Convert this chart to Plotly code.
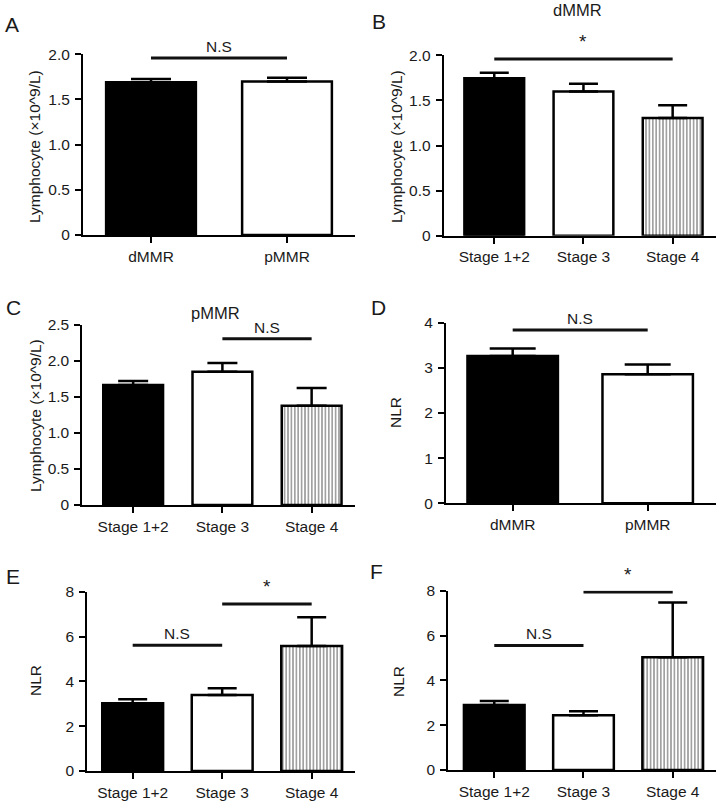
import plotly.graph_objects as go

W, H = 722, 809

# ---------------- data ----------------
cat_mmr = ["dMMR", "pMMR"]
cat_stage = ["Stage 1+2", "Stage 3", "Stage 4"]

a_mean = [1.69, 1.70]
a_sem = [0.037, 0.040]
b_mean = [1.745, 1.60, 1.305]
b_sem = [0.062, 0.085, 0.14]
c_mean = [1.667, 1.852, 1.38]
c_sem = [0.055, 0.12, 0.245]
d_mean = [3.26, 2.856]
d_sem = [0.17, 0.22]
e_mean = [3.02, 3.39, 5.58]
e_sem = [0.18, 0.30, 1.28]
f_mean = [2.90, 2.44, 5.03]
f_sem = [0.18, 0.18, 2.44]

lymph_ticks = [0, 0.5, 1.0, 1.5, 2.0]
lymph_ticks_c = [0, 0.5, 1.0, 1.5, 2.0, 2.5]
nlr_ticks_d = [0, 1, 2, 3, 4]
nlr_ticks_ef = [0, 2, 4, 6, 8]

# comparisons: (from index, to index, y level, label)
a_cmp = [(0, 1, 1.96, "N.S")]
b_cmp = [(0, 2, 1.96, "*")]
c_cmp = [(1, 2, 2.31, "N.S")]
d_cmp = [(0, 1, 3.84, "N.S")]
e_cmp = [(0, 1, 5.61, "N.S"), (1, 2, 7.45, "*")]
f_cmp = [(0, 1, 5.56, "N.S"), (1, 2, 7.94, "*")]

FONT = "Liberation Sans, Arial, Helvetica, sans-serif"
TXT = "#1a1a1a"


def fx(px):
    return px / W


def fy(py):
    return 1 - py / H


panels = [
    dict(letter="A", cats=cat_mmr, mean=a_mean, sem=a_sem, ticks=lymph_ticks,
         xd=(83, 355), yd=(54.3, 235), xr=(-0.5, 1.5), cap=20, bw=0.66,
         ytitle="Lymphocyte (×10^9/L)", title=None, cmp=a_cmp,
         lpos=(12, 24), tpos=(35, 147), ttl=None),
    dict(letter="B", cats=cat_stage, mean=b_mean, sem=b_sem, ticks=lymph_ticks,
         xd=(443.7, 716), yd=(55.3, 235.7), xr=(-0.567, 2.486), cap=14.5, bw=0.67,
         ytitle="Lymphocyte (×10^9/L)", title="dMMR", cmp=b_cmp,
         lpos=(379, 22), tpos=(397, 147), ttl=(577, 10)),
    dict(letter="C", cats=cat_stage, mean=c_mean, sem=c_sem, ticks=lymph_ticks_c,
         xd=(82.3, 355), yd=(325, 505), xr=(-0.57, 2.486), cap=15, bw=0.67,
         ytitle="Lymphocyte (×10^9/L)", title="pMMR", cmp=c_cmp,
         lpos=(14, 307), tpos=(35, 416), ttl=(215, 313)),
    dict(letter="D", cats=cat_mmr, mean=d_mean, sem=d_sem, ticks=nlr_ticks_d,
         xd=(446, 716), yd=(322.7, 503.3), xr=(-0.494, 1.506), cap=23, bw=0.67,
         ytitle="NLR", title=None, cmp=d_cmp,
         lpos=(378, 307), tpos=(396, 413), ttl=None),
    dict(letter="E", cats=cat_stage, mean=e_mean, sem=e_sem, ticks=nlr_ticks_ef,
         xd=(87.3, 355), yd=(591.7, 771), xr=(-0.507, 2.484), cap=14.5, bw=0.68,
         ytitle="NLR", title=None, cmp=e_cmp,
         lpos=(13, 576), tpos=(35, 681), ttl=None),
    dict(letter="F", cats=cat_stage, mean=f_mean, sem=f_sem, ticks=nlr_ticks_ef,
         xd=(448.3, 716), yd=(590.7, 770), xr=(-0.515, 2.485), cap=14.5, bw=0.68,
         ytitle="NLR", title=None, cmp=f_cmp,
         lpos=(376, 571), tpos=(398, 681), ttl=None),
]

fig = go.Figure()
layout = dict(
    template="none",
    width=W, height=H,
    margin=dict(l=0, r=0, t=0, b=0, pad=0, autoexpand=False),
    paper_bgcolor="white", plot_bgcolor="white",
    showlegend=False,
    font=dict(family=FONT, color=TXT, size=15),
)
shapes = []
annotations = []

fills = {2: ["black", "white"], 3: ["black", "white", "white"]}
patterns = {2: ["", ""], 3: ["", "", "|"]}


def tick_text(t):
    if t == 0:
        return "0"
    if isinstance(t, float):
        return f"{t:.1f}"
    return str(t)


for k, p in enumerate(panels):
    n = len(p["cats"])
    xa = "x" if k == 0 else f"x{k+1}"
    ya = "y" if k == 0 else f"y{k+1}"
    fig.add_trace(go.Bar(
        x=p["cats"], y=p["mean"], width=p["bw"],
        xaxis=xa, yaxis=ya,
        marker=dict(color=fills[n], line=dict(color="black", width=2.5),
                    pattern=dict(shape=patterns[n], fgcolor="black", bgcolor="white",
                                 size=3.4, solidity=0.5, fillmode="overlay")),
        error_y=dict(type="data", symmetric=False, array=p["sem"], arrayminus=[0] * n,
                     color="black", thickness=2.5, width=p["cap"]),
        hoverinfo="skip",
    ))
    xkey = "xaxis" if k == 0 else f"xaxis{k+1}"
    ykey = "yaxis" if k == 0 else f"yaxis{k+1}"
    layout[xkey] = dict(
        domain=[fx(p["xd"][0]), fx(p["xd"][1])], anchor=ya,
        type="category", range=list(p["xr"]), automargin=False,
        showline=True, linecolor="black", linewidth=2,
        ticks="outside", ticklen=6, tickwidth=2, tickcolor="black",
        showgrid=False, zeroline=False, fixedrange=True,
        tickfont=dict(family=FONT, size=15.5, color=TXT),
    )
    layout[ykey] = dict(
        domain=[fy(p["yd"][1]), fy(p["yd"][0])], anchor=xa,
        range=[0, p["ticks"][-1]], automargin=False,
        tickvals=p["ticks"], ticktext=[tick_text(t) for t in p["ticks"]],
        showline=True, linecolor="black", linewidth=2,
        ticks="outside", ticklen=6, tickwidth=2, tickcolor="black",
        ticklabelstandoff=2,
        showgrid=False, zeroline=False, fixedrange=True,
        tickfont=dict(family=FONT, size=15.5, color=TXT),
    )
    for (i, j, yv, lab) in p["cmp"]:
        shapes.append(dict(type="line", xref=xa, yref=ya, x0=i, x1=j, y0=yv, y1=yv,
                           line=dict(color="#111", width=3)))
        if lab == "*":
            annotations.append(dict(xref=xa, yref=ya, x=(i + j) / 2, y=yv, text="*",
                                    showarrow=False, yanchor="bottom", yshift=5,
                                    font=dict(family=FONT, size=19, color=TXT)))
        else:
            annotations.append(dict(xref=xa, yref=ya, x=(i + j) / 2, y=yv, text=lab,
                                    showarrow=False, yanchor="bottom", yshift=1,
                                    font=dict(family=FONT, size=15.5, color=TXT)))
    annotations.append(dict(xref="paper", yref="paper", x=fx(p["lpos"][0]), y=fy(p["lpos"][1]),
                            text=p["letter"], showarrow=False, xanchor="center", yanchor="middle",
                            font=dict(family=FONT, size=21, color=TXT)))
    annotations.append(dict(xref="paper", yref="paper", x=fx(p["tpos"][0]), y=fy(p["tpos"][1]),
                            text=p["ytitle"], showarrow=False, textangle=-90,
                            xanchor="center", yanchor="middle",
                            font=dict(family=FONT, size=15.5, color=TXT)))
    if p["title"]:
        annotations.append(dict(xref="paper", yref="paper", x=fx(p["ttl"][0]), y=fy(p["ttl"][1]),
                                text=p["title"], showarrow=False, xanchor="center", yanchor="middle",
                                font=dict(family=FONT, size=16.5, color=TXT)))

layout["shapes"] = shapes
layout["annotations"] = annotations
fig.update_layout(**layout)
fig.write_html(
    "out.html",
    config={"displayModeBar": False, "staticPlot": True},
    post_script="document.body.style.margin='0';document.body.style.padding='0';"
                "document.documentElement.style.margin='0';document.body.style.overflow='hidden';",
)
